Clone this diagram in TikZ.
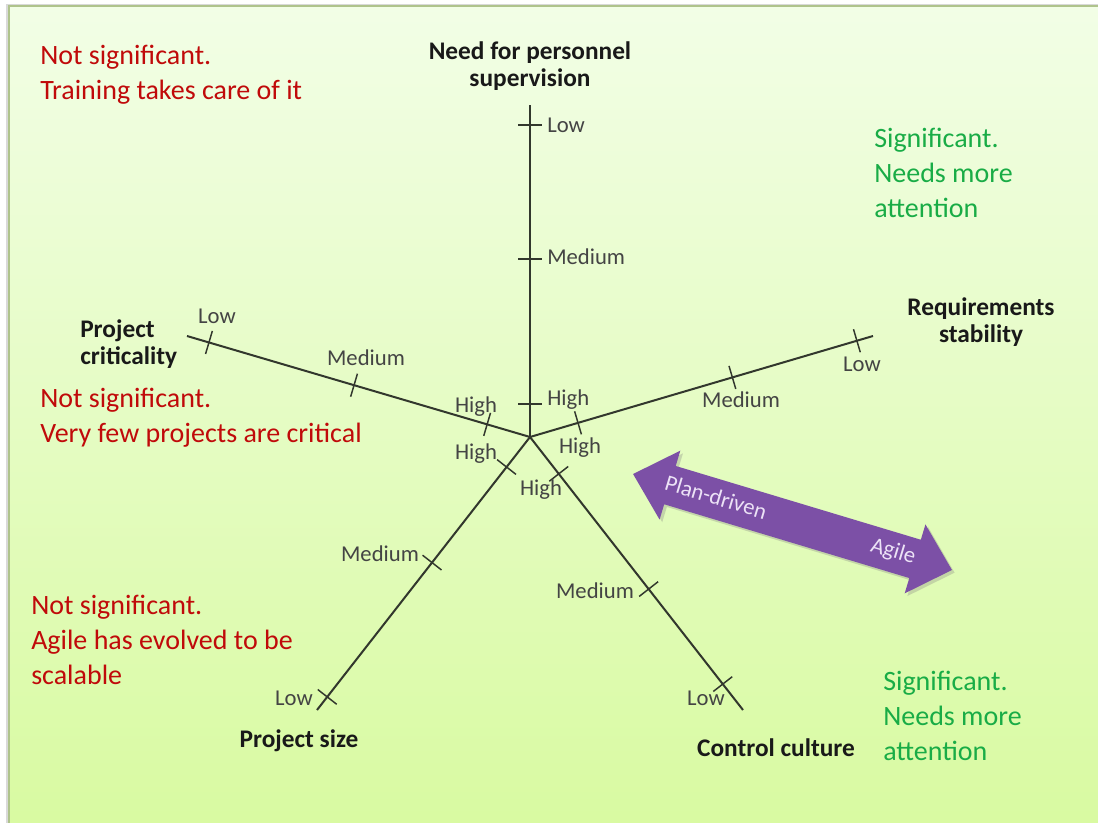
\documentclass[tikz,border=0pt]{standalone}
\usepackage{fontspec}
\setmainfont{Carlito}
\usetikzlibrary{calc,shadows}

\definecolor{bgtop}{RGB}{242,254,230}
\definecolor{bgbot}{RGB}{216,250,160}
\definecolor{framecol}{RGB}{175,195,140}
\definecolor{notsig}{RGB}{192,10,10}
\definecolor{sig}{RGB}{25,172,70}
\definecolor{axiscol}{RGB}{50,55,45}
\definecolor{tickcol}{RGB}{68,68,68}
\definecolor{titlecol}{RGB}{25,25,25}
\definecolor{arrowfill}{RGB}{124,80,166}
\definecolor{arrowtext}{RGB}{236,226,246}

\tikzset{
  axisline/.style={draw=axiscol, line width=1.5pt},
  tickmark/.style={draw=axiscol, line width=1.1pt},
  ticklabel/.style={text=tickcol, font=\fontsize{17}{19}\selectfont, inner sep=0pt},
  axistitle/.style={text=titlecol, font=\fontsize{19}{20.25}\selectfont\bfseries, inner sep=0pt},
  note/.style={align=left, anchor=north west, inner sep=0pt,
    font=\fontsize{21}{26.25}\selectfont},
  redNote/.style={note, text=notsig},
  greenNote/.style={note, text=sig},
  arrowlabel/.style={text=arrowtext, font=\fontsize{17}{19}\selectfont, rotate=-16.75, inner sep=0pt}
}

% tick across axis #1 (from centre c) at fraction #2, named #3
\newcommand\axtick[3]{%
  \coordinate (#3) at ($(c)!#2!(#1)$);
  \draw[tickmark] ($(#3)!9pt!90:(#1)$) -- ($(#3)!9pt!-90:(#1)$);}

\begin{document}
\begin{tikzpicture}[x=0.75pt, y=-0.75pt]
\useasboundingbox (0,0) rectangle (1098,823);

% slide background
\fill[white] (0,0) rectangle (1098,823);
\fill[gray!30] (6,4) rectangle (1098,823);
\shade[top color=bgtop, bottom color=bgbot, draw=framecol, line width=1.5pt]
  (9,6) rectangle (1112,840);

% axes
\coordinate (c)  at (530,437);
\coordinate (up) at (530,105);
\coordinate (rq) at (873,336);
\coordinate (pc) at (187,336);
\coordinate (ps) at (317,710);
\coordinate (cc) at (743,710);

\foreach \e in {up,rq,pc,ps,cc} \draw[axisline] (c) -- (\e);

\axtick{up}{0.94}{upL}  \axtick{up}{0.536}{upM}  \axtick{up}{0.10}{upH}
\axtick{pc}{0.936}{pcL} \axtick{pc}{0.513}{pcM}  \axtick{pc}{0.125}{pcH}
\axtick{rq}{0.953}{rqL} \axtick{rq}{0.59}{rqM}   \axtick{rq}{0.14}{rqH}
\axtick{ps}{0.952}{psL} \axtick{ps}{0.46}{psM}   \axtick{ps}{0.11}{psH}
\axtick{cc}{0.905}{ccL} \axtick{cc}{0.557}{ccM}  \axtick{cc}{0.135}{ccH}

% tick labels
\node[ticklabel, anchor=west] (tupL) at (547,125) {Low};
\node[ticklabel, anchor=west] (tupM) at (547,257) {Medium};
\node[ticklabel, anchor=west] (tupH) at (547,400) {High};
\node[ticklabel] (tpcL) at (217,316) {Low};
\node[ticklabel] (tpcM) at (366,358) {Medium};
\node[ticklabel] (tpcH) at (476,407) {High};
\node[ticklabel] (trqL) at (862,364) {Low};
\node[ticklabel] (trqM) at (741,400) {Medium};
\node[ticklabel] (trqH) at (580,448) {High};
\node[ticklabel] (tpsH) at (476,454) {High};
\node[ticklabel] (tpsM) at (380,554) {Medium};
\node[ticklabel] (tpsL) at (294,698) {Low};
\node[ticklabel] (tccH) at (541,490) {High};
\node[ticklabel] (tccM) at (595,591) {Medium};
\node[ticklabel] (tccL) at (706,698) {Low};

% axis titles
\node[axistitle, align=center] (nps) at (530,66.5) {Need for personnel\\supervision};
\node[axistitle, align=left, anchor=west] (pcr) at (80,344) {Project\\criticality};
\node[axistitle, align=center] (rst) at (981,322) {Requirements\\stability};
\node[axistitle] (psz) at (299,741) {Project size};
\node[axistitle] (ccu) at (776,748) {Control culture};

% notes
\node[redNote] (n1) at (40,45) {Not significant.\\Training takes care of it};
\node[redNote] (n2) at (40,388) {Not significant.\\Very few projects are critical};
\node[redNote] (n3) at (31,595) {Not significant.\\Agile has evolved to be\\scalable};
\node[greenNote] (n4) at (874,128) {Significant.\\Needs more\\attention};
\node[greenNote] (n5) at (883,671) {Significant.\\Needs more\\attention};

% plan-driven / agile double arrow
\begin{scope}[shift={(792.5,522)}, rotate=-16.75]
  \fill[arrowfill, drop shadow={opacity=0.3, shadow xshift=2pt, shadow yshift=-2pt}]
    (-166.5,0) -- (-128,-36) -- (-128,-20) -- (128,-20) -- (128,-36)
    -- (166.5,0) -- (128,36) -- (128,20) -- (-128,20) -- (-128,36) -- cycle;
\end{scope}
\node[arrowlabel] (pd) at (716,497) {Plan-driven};
\node[arrowlabel] (ag) at (893,552) {Agile};

\end{tikzpicture}
\end{document}
